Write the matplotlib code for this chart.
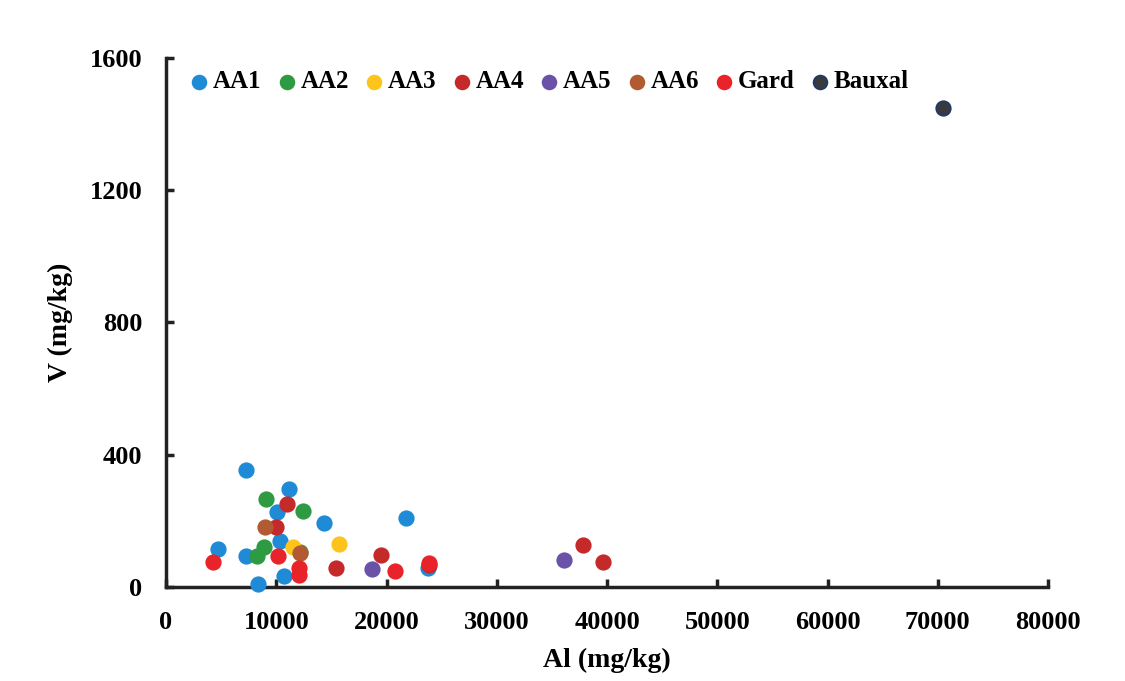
import matplotlib
matplotlib.use("Agg")
import matplotlib.pyplot as plt

plt.rcParams['font.family'] = ['Liberation Serif', 'DejaVu Serif']
plt.rcParams['font.weight'] = 'bold'

# Al (mg/kg) and V (mg/kg) per group
aa1_al = [7250, 4750, 7250, 8370, 11130, 10040, 10370, 10670, 14330, 21740, 23760]
aa1_v = [354, 116, 95, 9, 296, 228, 139, 33, 194, 210, 57]
aa2_al = [9070, 12400, 8920, 8280, 12150]
aa2_v = [266, 230, 122, 93, 107]
aa3_al = [11550, 15690]
aa3_v = [120, 131]
aa4_al = [10950, 10010, 19470, 15390, 37790, 39670, 23820]
aa4_v = [250, 181, 96, 57, 126, 76, 67]
aa5_al = [18690, 36100]
aa5_v = [55, 82]
aa6_al = [9010, 12150]
aa6_v = [182, 104]
gard_al = [4230, 10160, 12090, 12090, 20770, 23820]
gard_v = [76, 94, 57, 36, 49, 72]
bauxal_al = [70480]
bauxal_v = [1449]

groups = [
    ("AA1", aa1_al, aa1_v, '#1f8ad6', '#1f8ad6'),
    ("AA2", aa2_al, aa2_v, '#2e9a42', '#2e9a42'),
    ("AA3", aa3_al, aa3_v, '#fcc41c', '#fcc41c'),
    ("AA4", aa4_al, aa4_v, '#c42a2a', '#c42a2a'),
    ("AA5", aa5_al, aa5_v, '#6a52a8', '#6a52a8'),
    ("AA6", aa6_al, aa6_v, '#b25a32', '#b25a32'),
    ("Gard", gard_al, gard_v, '#e8232a', '#e8232a'),
    ("Bauxal", bauxal_al, bauxal_v, '#3a3a3e', '#1a3a6a'),
]

fig = plt.figure(figsize=(11.25, 6.81), dpi=100)
ax = fig.add_axes([0.1476, 0.138, 0.784, 0.777])

for name, x, y, fc, ec in groups:
    ax.scatter(x, y, s=110, c=fc, edgecolors=ec, linewidths=1.2,
               label=name, clip_on=False, zorder=3)

ax.set_xlim(0, 80000)
ax.set_ylim(0, 1600)
ax.set_xticks(range(0, 80001, 10000))
ax.set_yticks(range(0, 1601, 400))

for s in ['top', 'right']:
    ax.spines[s].set_visible(False)
for s in ['left', 'bottom']:
    ax.spines[s].set_linewidth(2.5)
    ax.spines[s].set_color('#222222')

ax.tick_params(direction='in', length=6, width=2.5, color='#222222',
               labelsize=19, pad=17)
for lbl in ax.get_xticklabels() + ax.get_yticklabels():
    lbl.set_fontweight('bold')

ax.set_xlabel("Al (mg/kg)", fontsize=20, fontweight='bold', labelpad=10)
ax.set_ylabel("V (mg/kg)", fontsize=20, fontweight='bold', labelpad=12)

leg = ax.legend(loc='upper left', ncol=8, frameon=False,
                handlelength=0.7, handletextpad=0.2, columnspacing=0.66,
                bbox_to_anchor=(0.008, 1.01), borderpad=0.2, markerscale=0.95,
                prop={'weight': 'bold', 'size': 18})

fig.savefig("out.png", dpi=100)
